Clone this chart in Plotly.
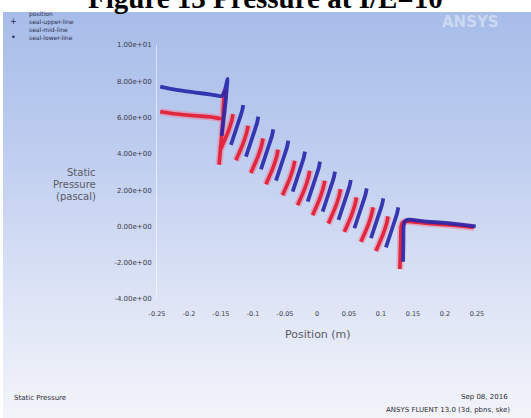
import plotly.graph_objects as go

# ---------------- data: static pressure along the seal (x in m, p in Pa) ----------------
# upper line (blue): inlet plateau, jump at the first fin, one stroke per cavity, outlet
upper_inlet_x = [-0.245, -0.220, -0.190, -0.165, -0.149, -0.1445, -0.1415, -0.1398, -0.1410, -0.1430, -0.1460, -0.1490]
upper_inlet_p = [7.70, 7.52, 7.38, 7.27, 7.18, 7.45, 7.85, 8.13, 7.60, 6.80, 5.90, 5.00]

upper_cavity_x = [
    [-0.1152, -0.1172, -0.1232, -0.1345],
    [-0.0917, -0.0937, -0.0997, -0.1110],
    [-0.0683, -0.0703, -0.0763, -0.0876],
    [-0.0448, -0.0468, -0.0528, -0.0641],
    [-0.0188, -0.0208, -0.0268, -0.0381],
    [0.0047, 0.0027, -0.0033, -0.0146],
    [0.0281, 0.0261, 0.0201, 0.0088],
    [0.0528, 0.0508, 0.0448, 0.0335],
    [0.0777, 0.0757, 0.0697, 0.0584],
    [0.1036, 0.1016, 0.0956, 0.0843],
    [0.1270, 0.1250, 0.1190, 0.1077],
]
upper_cavity_p = [
    [6.69, 6.35, 5.70, 4.50],
    [6.05, 5.70, 5.05, 3.85],
    [5.35, 5.00, 4.35, 3.15],
    [4.73, 4.38, 3.73, 2.53],
    [4.12, 3.77, 3.12, 1.92],
    [3.57, 3.22, 2.57, 1.37],
    [3.02, 2.67, 2.02, 0.82],
    [2.56, 2.21, 1.56, 0.36],
    [2.10, 1.75, 1.10, -0.10],
    [1.55, 1.20, 0.55, -0.65],
    [1.05, 0.70, 0.05, -1.15],
]
upper_outlet_x = [0.1345, 0.1350, 0.1355, 0.1375, 0.1430, 0.170, 0.200, 0.225, 0.248]
upper_outlet_p = [-1.95, -0.90, 0.05, 0.30, 0.37, 0.27, 0.19, 0.10, 0.00]

# lower line (red)
lower_inlet_x = [-0.245, -0.220, -0.190, -0.165, -0.148, -0.1465, -0.1450, -0.1440, -0.1460, -0.1480, -0.1510, -0.1530]
lower_inlet_p = [6.32, 6.20, 6.10, 6.03, 5.96, 6.50, 7.20, 7.45, 6.60, 5.40, 4.20, 3.40]

lower_cavity_x = [
    [-0.1312, -0.1332, -0.1392, -0.1502],
    [-0.1077, -0.1097, -0.1157, -0.1267],
    [-0.0843, -0.0863, -0.0923, -0.1033],
    [-0.0608, -0.0628, -0.0688, -0.0798],
    [-0.0348, -0.0368, -0.0428, -0.0538],
    [-0.0113, -0.0133, -0.0193, -0.0303],
    [0.0121, 0.0101, 0.0041, -0.0069],
    [0.0368, 0.0348, 0.0288, 0.0178],
    [0.0617, 0.0597, 0.0537, 0.0427],
    [0.0876, 0.0856, 0.0796, 0.0686],
    [0.1110, 0.1090, 0.1030, 0.0920],
]
lower_cavity_p = [
    [6.19, 5.84, 5.19, 4.29],
    [5.55, 5.20, 4.55, 3.65],
    [4.85, 4.50, 3.85, 2.95],
    [4.23, 3.88, 3.23, 2.33],
    [3.62, 3.27, 2.62, 1.72],
    [3.07, 2.72, 2.07, 1.17],
    [2.52, 2.17, 1.52, 0.62],
    [2.06, 1.71, 1.06, 0.16],
    [1.60, 1.25, 0.60, -0.30],
    [1.05, 0.70, 0.05, -0.85],
    [0.55, 0.20, -0.45, -1.35],
]
lower_outlet_x = [0.1295, 0.1305, 0.1315, 0.1340, 0.1410, 0.170, 0.200, 0.225, 0.245]
lower_outlet_p = [-2.35, -1.00, 0.00, 0.22, 0.28, 0.18, 0.10, 0.02, -0.06]

x_tick_vals = [-0.25, -0.2, -0.15, -0.1, -0.05, 0, 0.05, 0.1, 0.15, 0.2, 0.25]
x_tick_text = ["-0.25", "-0.2", "-0.15", "-0.1", "-0.05", "0", "0.05", "0.1", "0.15", "0.2", "0.25"]
y_tick_vals = [-4, -2, 0, 2, 4, 6, 8, 10]
y_tick_text = ["-4.00e+00", "-2.00e+00", "0.00e+00", "2.00e+00",
               "4.00e+00", "6.00e+00", "8.00e+00", "1.00e+01"]

legend_rows = ["position", "seal-upper-line", "seal-mid-line", "seal-lower-line"]


def join_strokes(first_x, first_p, strokes_x, strokes_p, last_x, last_p):
    """Chain the separate strokes into one trace, split by gaps."""
    xs, ps = list(first_x) + [None], list(first_p) + [None]
    for sx, sp in zip(strokes_x, strokes_p):
        xs += list(sx) + [None]
        ps += list(sp) + [None]
    xs += list(last_x)
    ps += list(last_p)
    return xs, ps


W, H = 531, 418
L, R, T, B = 157, 54, 45, 119
PW, PH = W - L - R, H - T - B


def fx(px):
    return (px - L) / PW


def fy(py):
    return (H - B - py) / PH


fig = go.Figure()

lx, lp = join_strokes(lower_inlet_x, lower_inlet_p, lower_cavity_x, lower_cavity_p,
                      lower_outlet_x, lower_outlet_p)
ux, up = join_strokes(upper_inlet_x, upper_inlet_p, upper_cavity_x, upper_cavity_p,
                      upper_outlet_x, upper_outlet_p)

# soft halo under the red line, then the red and blue lines
fig.add_trace(go.Scatter(x=lx, y=lp, mode="lines", connectgaps=False,
                         line=dict(color="rgba(245,110,140,0.45)", width=7, shape="spline", smoothing=0.6),
                         hoverinfo="skip", showlegend=False))
fig.add_trace(go.Scatter(x=lx, y=lp, mode="lines", connectgaps=False, name="seal-lower-line",
                         line=dict(color="#e2263e", width=3.6, shape="spline", smoothing=0.6),
                         showlegend=False))
fig.add_trace(go.Scatter(x=ux, y=up, mode="lines", connectgaps=False, name="seal-upper-line",
                         line=dict(color="rgba(38,38,170,0.9)", width=3.8, shape="spline", smoothing=0.6),
                         showlegend=False))

# background: light-blue to white vertical gradient
stops = [(12, (166, 188, 232)), (150, (190, 205, 239)), (300, (221, 228, 245)), (418, (243, 244, 249))]
shapes = []
band = 6
y0 = 12
while y0 < H:
    y1 = min(y0 + band, H)
    ym = (y0 + y1) / 2
    for (a, ca), (b, cb) in zip(stops[:-1], stops[1:]):
        if a <= ym <= b:
            t = (ym - a) / (b - a)
            col = tuple(round(ca[i] + (cb[i] - ca[i]) * t) for i in range(3))
            break
    shapes.append(dict(type="rect", xref="paper", yref="paper", layer="below",
                       x0=fx(3), x1=fx(W), y0=fy(y1 + 0.5), y1=fy(y0),
                       fillcolor="rgb(%d,%d,%d)" % col, line=dict(width=0)))
    y0 = y1

tick_font = dict(family="DejaVu Sans", size=7, color="#3a3a4a")
label_font = dict(family="DejaVu Sans", size=10, color="#5a5a66")
small_font = dict(family="DejaVu Sans", size=7, color="#2c2c36")

annotations = [
    # figure caption above the plot window
    dict(text="<b>Figure 13 Pressure at I/E=10</b>", x=fx(265.5), y=fy(16), xref="paper", yref="paper",
         xanchor="center", yanchor="bottom", showarrow=False,
         font=dict(family="Liberation Serif", size=29, color="#000000")),
    dict(text="<b>ANSYS</b>", x=fx(470), y=fy(22), xref="paper", yref="paper",
         xanchor="center", yanchor="middle", showarrow=False,
         font=dict(family="DejaVu Sans", size=15, color="rgba(235,240,250,0.55)")),
    dict(text="Position (m)", x=fx(318), y=fy(334), xref="paper", yref="paper",
         xanchor="center", yanchor="middle", showarrow=False,
         font=dict(family="DejaVu Sans", size=11, color="#5a5a66")),
    dict(text="Static Pressure", x=fx(12), y=fy(398), xref="paper", yref="paper",
         xanchor="left", yanchor="middle", showarrow=False, font=small_font),
    dict(text="Sep 08, 2016", x=fx(510), y=fy(397), xref="paper", yref="paper",
         xanchor="right", yanchor="middle", showarrow=False, font=small_font),
    dict(text="ANSYS FLUENT 13.0 (3d, pbns, ske)", x=fx(512), y=fy(410), xref="paper", yref="paper",
         xanchor="right", yanchor="middle", showarrow=False, font=small_font),
]
for i, word in enumerate(["Static", "Pressure", "(pascal)"]):
    annotations.append(dict(text=word, x=fx(98), y=fy(172 + 12 * i), xref="paper", yref="paper",
                            xanchor="right", yanchor="middle", showarrow=False, font=label_font))

# legend block in the upper-left corner
legend_font = dict(family="DejaVu Sans", size=6, color="#2a2a50")
markers = ["", "+", "", "\u2022"]
for i, row in enumerate(legend_rows):
    annotations.append(dict(text=row, x=fx(27), y=fy(14 + 7.7 * i), xref="paper", yref="paper",
                            xanchor="left", yanchor="middle", showarrow=False, font=legend_font))
    if markers[i]:
        annotations.append(dict(text=markers[i], x=fx(13), y=fy(14 + 7.7 * i), xref="paper", yref="paper",
                                xanchor="center", yanchor="middle", showarrow=False,
                                font=dict(family="DejaVu Sans", size=8, color="#2a2a50")))

fig.update_layout(
    width=W, height=H,
    margin=dict(l=L, r=R, t=T, b=B),
    paper_bgcolor="white",
    plot_bgcolor="rgba(0,0,0,0)",
    shapes=shapes,
    annotations=annotations,
    showlegend=False,
    xaxis=dict(range=[-0.25, 0.25], tickvals=x_tick_vals, ticktext=x_tick_text,
               showgrid=False, zeroline=False, showline=False,
               ticks="outside", ticklen=8, tickcolor="rgba(0,0,0,0)",
               tickfont=dict(family="DejaVu Sans", size=6.5, color="#3a3a4a")),
    yaxis=dict(range=[-4, 10], tickvals=y_tick_vals, ticktext=y_tick_text,
               showgrid=False, zeroline=False,
               showline=True, linecolor="rgba(255,255,255,0.55)", linewidth=1,
               ticks="outside", ticklen=3, tickcolor="rgba(0,0,0,0)", tickfont=tick_font),
)

fig.write_html("out.html")
